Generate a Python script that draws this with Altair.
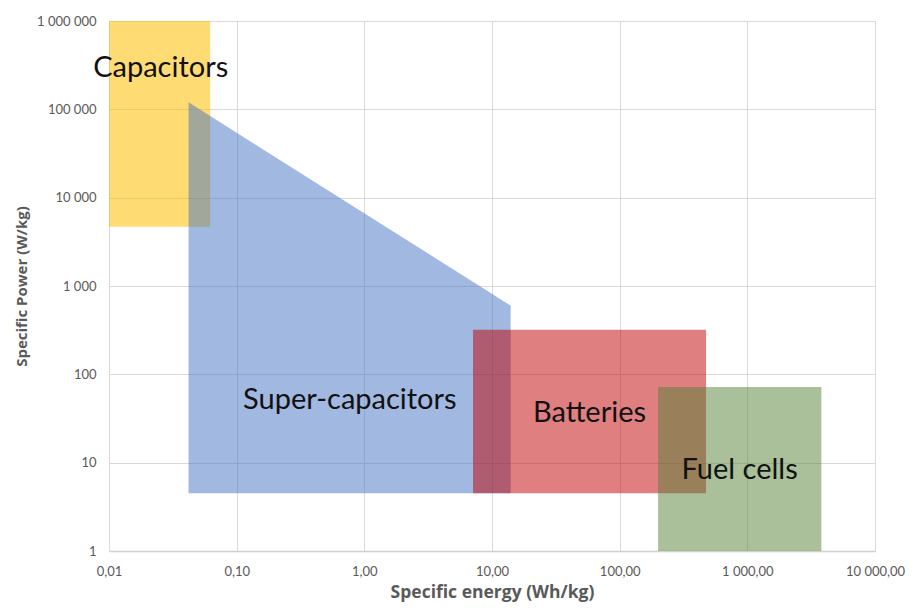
import altair as alt
import pandas as pd

# Region data (Specific energy Wh/kg, Specific power W/kg)
rect_names = ["Capacitors", "Batteries", "Fuel cells"]
rect_x = [0.01, 7.1, 200]
rect_x2 = [0.062, 475, 3800]
rect_y = [4700, 4.5, 1]
rect_y2 = [1000000, 320, 72]
rect_colors = ["#FFC000", "#C00000", "#548235"]

sc_x = [0.042, 14]
sc_top = [120000, 600]
sc_bottom = [4.5, 4.5]

label_text = ["Capacitors", "Super-capacitors", "Batteries", "Fuel cells"]
label_x = [0.0254, 0.77, 58, 870]
label_y = [295000, 51, 36.5, 8.3]

x_ticks = [0.01, 0.1, 1, 10, 100, 1000, 10000]
y_ticks = [1, 10, 100, 1000, 10000, 100000, 1000000]

rects = pd.DataFrame({"name": rect_names, "x": rect_x, "x2": rect_x2,
                      "y": rect_y, "y2": rect_y2, "c": rect_colors})
sc = pd.DataFrame({"x": sc_x, "top": sc_top, "bottom": sc_bottom})
labels = pd.DataFrame({"t": label_text, "x": label_x, "y": label_y})

xscale = alt.Scale(type="log", domain=[0.01, 10000], nice=False)
yscale = alt.Scale(type="log", domain=[1, 1000000], nice=False)

xaxis = alt.Axis(
    values=x_ticks, title="Specific energy (Wh/kg)", grid=True, ticks=False,
    labelExpr="replace(replace(format(datum.value, ',.2f'), regexp(',', 'g'), ' '), '.', ',')",
    labelPadding=14, titlePadding=5, labelFontSize=13, titleFontSize=17.5,
    labelColor="#595959", titleColor="#595959", titleFontWeight="bold",
    domainColor="#D0D0D0", domainWidth=1.5, gridColor="#D9D9D9",
    labelFont="Lato", titleFont="Open Sans", labelFlush=False,
)
yaxis = alt.Axis(
    values=y_ticks, title="Specific Power (W/kg)", grid=True, ticks=False,
    labelExpr="replace(format(datum.value, ','), regexp(',', 'g'), ' ')",
    labelPadding=13, titlePadding=7, labelFontSize=13, titleFontSize=15,
    labelColor="#595959", titleColor="#595959", titleFontWeight="bold",
    domain=False, gridColor="#D9D9D9",
    labelFont="Lato", titleFont="Open Sans", labelFlush=False,
)

cap = alt.Chart(rects.iloc[[0]]).mark_rect(opacity=0.55).encode(
    x=alt.X("x:Q", scale=xscale, axis=xaxis), x2="x2:Q",
    y=alt.Y("y:Q", scale=yscale, axis=yaxis), y2="y2:Q",
    color=alt.Color("c:N", scale=None),
)
supercap = alt.Chart(sc).mark_area(opacity=0.5, color="#4472C4").encode(
    x=alt.X("x:Q", scale=xscale), y=alt.Y("top:Q", scale=yscale), y2="bottom:Q"
)
bat = alt.Chart(rects.iloc[[1]]).mark_rect(opacity=0.5).encode(
    x=alt.X("x:Q", scale=xscale), x2="x2:Q",
    y=alt.Y("y:Q", scale=yscale), y2="y2:Q",
    color=alt.Color("c:N", scale=None),
)
fc = alt.Chart(rects.iloc[[2]]).mark_rect(opacity=0.5).encode(
    x=alt.X("x:Q", scale=xscale), x2="x2:Q",
    y=alt.Y("y:Q", scale=yscale), y2="y2:Q",
    color=alt.Color("c:N", scale=None),
)
text = alt.Chart(labels).mark_text(fontSize=29, font="Lato", color="#111111").encode(
    x=alt.X("x:Q", scale=xscale), y=alt.Y("y:Q", scale=yscale), text="t:N"
)

chart = alt.layer(cap, supercap, bat, fc, text).properties(
    width=766, height=530,
    autosize=alt.AutoSizeParams(type="none"),
    padding={"left": 101, "top": 13, "right": 30, "bottom": 52},
).configure_view(stroke=None)

chart.save("out.html", embed_options={"renderer": "svg", "actions": False})
